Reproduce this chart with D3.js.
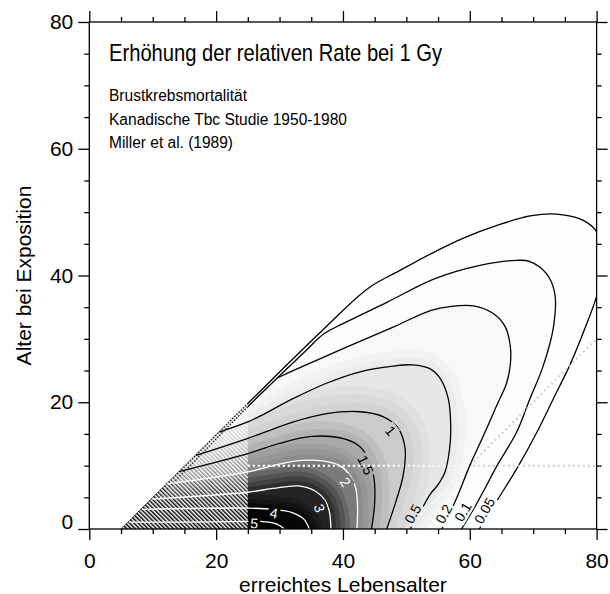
<!DOCTYPE html>
<html>
<head>
<meta charset="utf-8">
<script src="https://cdn.jsdelivr.net/npm/d3@7"></script>
<style>
  body { margin: 0; background: #fff; }
  text { font-family: "Liberation Sans", Arial, sans-serif; }
  .narrow { font-family: "Liberation Sans Narrow", "Arial Narrow", "Liberation Sans", Arial, sans-serif; }
</style>
</head>
<body>
<svg id="chart" width="610" height="594"></svg>
<script>
// ---- data: excess relative rate at 1 Gy, contour lines as [attained age, age at exposure] ----
const levels = [0.05, 0.1, 0.2, 0.5, 1, 1.5, 2, 3, 4, 5];
const levelText = ["0.05", "0.1", "0.2", "0.5", "1", "1.5", "2", "3", "4", "5"];

const err005 = [[61.5,0],[64.5,4.8],[67.7,10],[70.6,15.3],[73.2,20.6],[75.8,25.9],[77.9,31],[80,36.7],[81.2,41.8],
  [80,46.9],[77.9,48.7],[73.7,49.7],[69.5,49.4],[64.3,47.9],[59,45.9],[54,43.5],[49,40.8],[44,38],
  [36.4,31],[25.4,20.2],[5.2,0]];
const err01 = [[58.7,0],[60.8,3.5],[62.4,6.4],[64.3,10],[67.4,15.3],[69.5,20.6],[71.5,25.5],[73.2,31.9],[73.4,37.2],
  [72.1,40.3],[69.5,42.2],[67.4,42.4],[61.6,41.6],[54.5,39.5],[47,35.8],[40,32.4],[37,30.8],[34,28],
  [25.9,20.2],[15.9,10],[6,0]];
const err02 = [[55.6,0],[57.9,4.8],[60,10],[62.1,14.6],[64.3,19.6],[65.8,23],[66.4,26],[66.4,28.8],[65.6,31.9],
  [63.7,34],[60.6,35.2],[56.9,35.1],[53.9,34.5],[48,31.9],[40.1,28.5],[32.4,25.1],[29.8,23.9]];
const err05 = [[50.6,0],[52.2,2.7],[53.7,5.4],[55,7],[56.1,9],[56.8,12.5],[57,16],[56.6,20.6],[55.3,23.8],[53.7,25.3],
  [51,25.9],[47.9,25.7],[42.7,24.8],[37.4,23],[32.2,20.6],[26.9,17.8],[25,16.9],[20.5,15.3]];
const err1 = [[46.9,0],[48.5,4.8],[49.5,8.5],[49.8,12.7],[48.7,15.9],[46.4,17.7],[42.7,18.5],[37.4,18.2],
  [32.2,16.9],[28,15.4],[25,14.3],[16.8,11.6]];
const err15 = [[44.5,0],[45,4],[44.9,8],[44,11.2],[42.3,13.3],[39.5,14.4],[35,14.6],[30,13.5],[25,11.9],[14.3,9.1]];
const err2 = [[42.2,0],[42.3,3.5],[42,6.5],[41.1,8.5],[39.5,10],[37,10.7],[33,10.8],[29,10],[25,9],[12.3,7.1]];
const err3 = [[38.1,0],[37.9,2.5],[37.2,4.5],[35.6,6],[33,6.8],[29,6.4],[25,5.8],[9.9,4.7]];
const err4 = [[34.7,0],[33.8,1.6],[32,2.6],[29,3.1],[25,3.3],[8.3,3.1]];
const err5 = [[30.8,0],[29.5,0.8],[27,1.2],[25,1.2],[15,1.1],[6.2,1.1]];
const contours = [err005, err01, err02, err05, err1, err15, err2, err3, err4, err5];

// reference lines: exposure age 10, and 50 years after exposure
const exposureAge10 = [[25,10],[80,10]];
const followUp50 = [[50,0],[80,30]];

const minLatency = 5;      // attained age >= exposure age + 5
const sparseDataAge = 25;  // attained ages below this are hatched

const xTicks = d3.range(0, 81, 5);
const yTicks = d3.range(0, 81, 5);
const majorTicks = [0, 20, 40, 60, 80];

const titleText = "Erhöhung der relativen Rate bei 1 Gy";
const subLines = ["Brustkrebsmortalität", "Kanadische Tbc Studie 1950-1980", "Miller et al. (1989)"];

// ---- styles ----
const shadeIn   = ["#fefefe","#fcfcfc","#f8f8f8","#e7e7e7","#cbcbcb","#a9a9a9","#7a7a7a","#242424","#060606","#000000"];
const shadeEnd  = [null,null,"#ececec","#d2d2d2","#b3b3b3","#8c8c8c","#2e2e2e","#0b0b0b","#020202",null];
const bandDepth = [0,0,22,34,22,22,24,18,10,0];
const bandSteps = [1,1,3,4,3,4,5,4,2,1];
const lineColor = ["#000","#000","#000","#000","#000","#000","#fff","#fff","#fff","#fff"];
const labelPlace = [
  {a:62.3,e:2.9,rot:-60},{a:58.9,e:2.7,rot:-60},{a:55.9,e:2.4,rot:-60},{a:51.0,e:2.4,rot:-60},
  {a:47.5,e:15.5,rot:50},{a:43.6,e:10.1,rot:65},{a:40.4,e:7.4,rot:55},{a:36.3,e:3.3,rot:72},
  {a:29.1,e:2.5,rot:12},{a:26.0,e:0.9,rot:4}
];

const svg = d3.select("#chart");
const x = d3.scaleLinear().domain([0, 80]).range([89.3, 596.6]);
const y = d3.scaleLinear().domain([0, 80]).range([529, 22]);

const line = d3.line().x(d => x(d[0])).y(d => y(d[1])).curve(d3.curveCatmullRom.alpha(0.5));
const straight = d3.line().x(d => x(d[0])).y(d => y(d[1]));

// closed region "ERR >= level": contour plus a closure running outside the valid domain
function regionPath(pts) {
  const s = pts[0], e = pts[pts.length - 1];
  const extra = [[e[0] - 10, e[1]], [-15, -15], [s[0], -15]];
  return line(pts) + extra.map(p => "L" + x(p[0]) + "," + y(p[1])).join("") + "Z";
}

const defs = svg.append("defs");
defs.append("clipPath").attr("id", "plotClip").append("rect")
  .attr("x", x(0)).attr("y", y(80)).attr("width", x(80) - x(0)).attr("height", y(0) - y(80));
defs.append("clipPath").attr("id", "domainClip").append("path")
  .attr("d", straight([[minLatency, 0], [80, 80 - minLatency], [80, 0]]) + "Z");
contours.forEach((c, i) => {
  defs.append("clipPath").attr("id", "lvl" + i).append("path").attr("d", regionPath(c));
});
defs.append("clipPath").attr("id", "shadedClip").append("path").attr("d", regionPath(err02));
const hatch = defs.append("pattern").attr("id", "hatch").attr("patternUnits", "userSpaceOnUse")
  .attr("width", 3).attr("height", 3).attr("patternTransform", "rotate(45)");
hatch.append("rect").attr("width", 3).attr("height", 1.5).attr("fill", "#fff");
const mask = defs.append("mask").attr("id", "labelGaps").attr("maskUnits", "userSpaceOnUse")
  .attr("x", 0).attr("y", 0).attr("width", 610).attr("height", 594);
mask.append("rect").attr("width", 610).attr("height", 594).attr("fill", "#fff");

// layers, bottom to top
const shade = svg.append("g").attr("clip-path", "url(#domainClip)");
const linesLow = svg.append("g").attr("clip-path", "url(#plotClip)").append("g").attr("mask", "url(#labelGaps)");
const hatchLayer = svg.append("g");
const refs = svg.append("g");
const linesHigh = svg.append("g").attr("clip-path", "url(#plotClip)").append("g").attr("mask", "url(#labelGaps)");
const labels = svg.append("g");

// ---- shaded surface ----
contours.forEach((c, i) => {
  shade.append("path").attr("d", regionPath(c)).attr("fill", shadeIn[i]);
  const k = bandSteps[i];
  if (i + 1 < contours.length && k > 1) {
    const band = shade.append("g").attr("clip-path", "url(#lvl" + i + ")");
    const mix = d3.interpolateRgb(shadeIn[i], shadeEnd[i]);
    for (let j = 1; j < k; j++) {
      band.append("path").attr("d", regionPath(contours[i + 1]))
        .attr("fill", "none").attr("stroke", mix(j / (k - 1)))
        .attr("stroke-width", 2 * bandDepth[i] * (k - j) / k)
        .attr("stroke-linejoin", "round");
    }
  }
});

// ---- contour lines (outer two run along the latency edge, under the hatching) ----
contours.forEach((c, i) => {
  (i < 2 ? linesLow : linesHigh).append("path").attr("d", line(c)).attr("fill", "none")
    .attr("stroke", lineColor[i]).attr("stroke-width", 1.3);
});

// ---- hatching for young attained ages ----
hatchLayer.append("path")
  .attr("d", straight([[minLatency, 0], [sparseDataAge, sparseDataAge - minLatency], [sparseDataAge, 0]]) + "Z")
  .attr("fill", "url(#hatch)");

// ---- dotted reference lines ----
[exposureAge10, followUp50].forEach(r => {
  refs.append("path").attr("d", straight(r)).attr("stroke", "#cfcfcf").attr("stroke-width", 2)
    .attr("stroke-dasharray", "2,3").attr("fill", "none");
  refs.append("path").attr("d", straight(r)).attr("stroke", "#fff").attr("stroke-width", 2)
    .attr("stroke-dasharray", "2,3").attr("fill", "none").attr("clip-path", "url(#shadedClip)");
});

// ---- contour labels ----
levels.forEach((lv, i) => {
  const p = labelPlace[i];
  const tr = `translate(${x(p.a)},${y(p.e)}) rotate(${p.rot})`;
  const t = labels.append("text").attr("class", "narrow").attr("transform", tr)
    .attr("text-anchor", "middle").attr("dy", "0.36em").attr("font-size", 14)
    .attr("fill", lineColor[i]).text(levelText[i]);
  const w = t.node().getComputedTextLength();
  mask.append("rect").attr("transform", tr).attr("x", -w / 2 - 2).attr("y", -7.5)
    .attr("width", w + 4).attr("height", 15).attr("fill", "#000");
});

// ---- frame and axes ----
svg.append("rect").attr("x", x(0)).attr("y", y(80)).attr("width", x(80) - x(0)).attr("height", y(0) - y(80))
  .attr("fill", "none").attr("stroke", "#000").attr("stroke-width", 1.3);

function addAxis(gen, tx, ty, values, size, labelled, pad) {
  const g = svg.append("g").attr("transform", `translate(${tx},${ty})`)
    .call(gen.tickValues(values).tickSizeInner(size).tickSizeOuter(0).tickPadding(pad)
      .tickFormat(labelled ? d3.format("d") : () => ""));
  g.select(".domain").remove();
  g.selectAll(".tick line").attr("stroke", "#000").attr("stroke-width", 1.3);
  g.selectAll(".tick text").attr("font-size", 21).attr("fill", "#000");
  g.attr("font-family", null);
  return g;
}
const minorX = xTicks.filter(v => !majorTicks.includes(v));
const minorY = yTicks.filter(v => !majorTicks.includes(v));
const bottomAxis = addAxis(d3.axisBottom(x), 0, y(0), majorTicks, 11, true, 0);
bottomAxis.selectAll(".tick text").attr("y", 567.5 - y(0)).attr("dy", null);
addAxis(d3.axisBottom(x), 0, y(0), minorX, 5, false, 3);
addAxis(d3.axisTop(x), 0, y(80), majorTicks, 11, false, 3);
addAxis(d3.axisTop(x), 0, y(80), minorX, 5, false, 3);
const leftAxis = addAxis(d3.axisLeft(y), x(0), 0, majorTicks, 11, true, 5);
leftAxis.selectAll(".tick").filter(d => d === 0).select("text").attr("dy", "-0.02em");
addAxis(d3.axisLeft(y), x(0), 0, minorY, 5, false, 3);
addAxis(d3.axisRight(y), x(80), 0, majorTicks, 11, false, 3);
addAxis(d3.axisRight(y), x(80), 0, minorY, 5, false, 3);

svg.append("text").attr("x", (x(0) + x(80)) / 2).attr("y", 591.5).attr("text-anchor", "middle")
  .attr("font-size", 21).text("erreichtes Lebensalter");
svg.append("text").attr("transform", `translate(31,${(y(0) + y(80)) / 2}) rotate(-90)`)
  .attr("text-anchor", "middle").attr("font-size", 21).text("Alter bei Exposition");

// ---- header text ----
svg.append("text").attr("class", "narrow").attr("x", 109).attr("y", 61).attr("font-size", 24)
  .attr("textLength", 333).attr("lengthAdjust", "spacingAndGlyphs").text(titleText);
const subWidths = [138, 238, 124];
subLines.forEach((s, i) => {
  svg.append("text").attr("class", "narrow").attr("x", 109).attr("y", 101 + i * 23.7).attr("font-size", 16)
    .attr("textLength", subWidths[i]).attr("lengthAdjust", "spacingAndGlyphs").text(s);
});
</script>
</body>
</html>
